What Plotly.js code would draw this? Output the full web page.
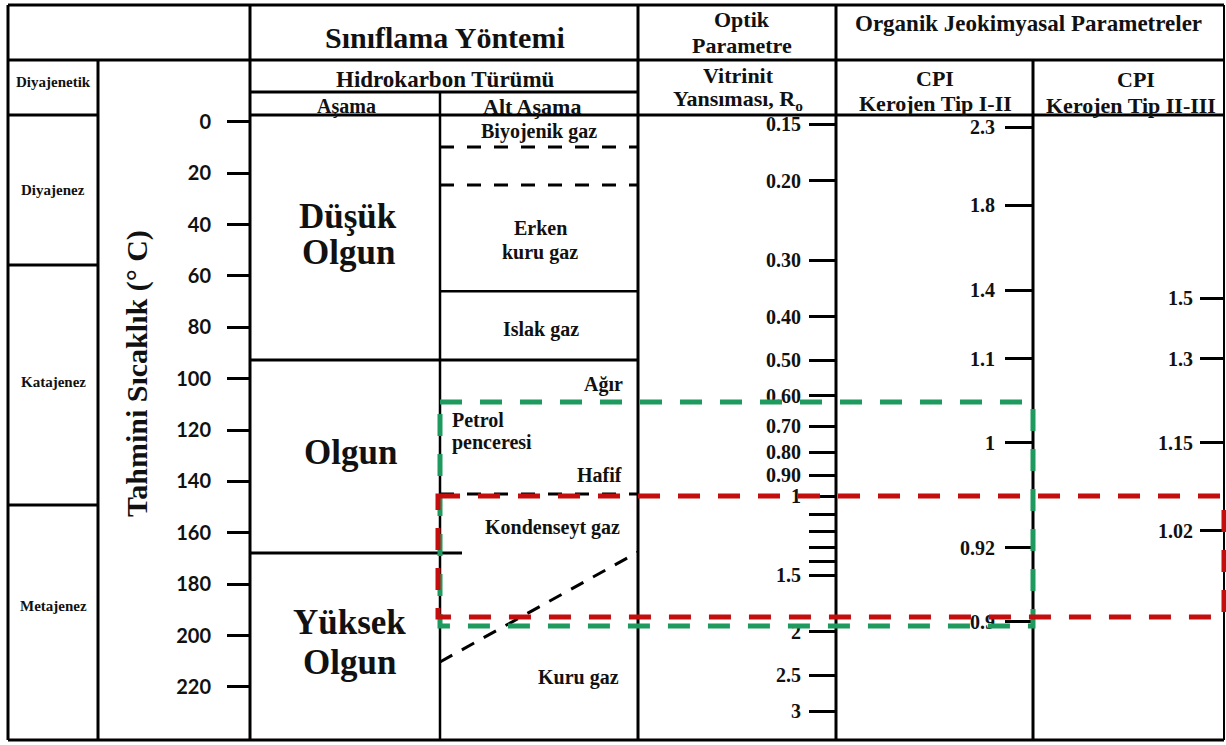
<!DOCTYPE html>
<html><head><meta charset="utf-8">
<script src="https://cdn.plot.ly/plotly-3.0.1.min.js"></script>
<style>html,body{margin:0;padding:0;background:#fff}</style>
</head><body><div id="chart" style="width:1226px;height:745px"></div>
<script>
// ---------- data ----------
const tempTicks = [0,20,40,60,80,100,120,140,160,180,200,220];          // °C
const roValues  = [0.15,0.2,0.3,0.4,0.5,0.6,0.7,0.8,0.9,1,1.5,2,2.5,3];
const roLabels  = ['0.15','0.20','0.30','0.40','0.50','0.60','0.70','0.80','0.90','1','1.5','2','2.5','3'];
const roMinor   = [1.1,1.2,1.3,1.4];                                    // unlabelled ticks
const cpi1Labels = ['2.3','1.8','1.4','1.1','1','0.92','0.9'];
const cpi1Temps  = [2.0,32.4,65.5,92.3,125.0,165.9,194.7];
const cpi2Labels = ['1.5','1.3','1.15','1.02'];
const cpi2Temps  = [68.6,92.3,125.0,159.3];
const diaNames  = ['Diyajenez','Katajenez','Metajenez'];
const diaLabelT = [26.5,101.3,188.5];
const diaBounds = [55.7,149.2];
const stageBounds = [92.7,167.9];
const subSolid  = [65.9];
const subDashed = [9.8,24.6,144.9];
const dryGasLineT = [210.3,167.5];      // Kuru gaz / Kondenseyt boundary (left, right)
const oilWindowT = [109.1,196.3];       // Petrol penceresi (green)
const gasWindowT = [145.7,192.8];       // Kondenseyt gaz penceresi (red)

// ---------- helpers ----------
const W = 1226, H = 745;
const px = x => x / W;
const py = y => 1 - y / H;
const SERIF = 'Liberation Serif, Times New Roman, serif';
const shapes = [];
const ann = [];
function pline(x0,y0,x1,y1,w){ shapes.push({type:'line',xref:'paper',yref:'paper',x0:px(x0),x1:px(x1),y0:py(y0),y1:py(y1),line:{color:'#000',width:w||3}}); }
function tline(x0,t0,x1,t1,w,dash){ shapes.push({type:'line',xref:'paper',yref:'y',x0:px(x0),x1:px(x1),y0:t0,y1:t1,line:{color:'#000',width:w||3,dash:dash||'solid'}}); }
function hdr(text,x,y,size,opt){ ann.push(Object.assign({text:'<b>'+text+'</b>',xref:'paper',yref:'paper',x:px(x),y:py(y),showarrow:false,xanchor:'center',yanchor:'middle',font:{family:SERIF,size:size,color:'#111'}},opt||{})); }
function body(text,x,t,size,opt){ ann.push(Object.assign({text:'<b>'+text+'</b>',xref:'paper',yref:'y',x:px(x),y:t,showarrow:false,xanchor:'center',yanchor:'middle',font:{family:SERIF,size:size,color:'#111'}},opt||{})); }

// ---------- table frame ----------
pline(8,5,1224,5); pline(8,60,1224,60); pline(250,92,638,92);
pline(8,115,98,115); pline(250,115,1224,115); pline(8,740,1224,740);
pline(8,5,8,740); pline(98,60,98,740); pline(250,5,250,740);
pline(440,92,440,740,2.5); pline(638,5,638,740); pline(836,5,836,740);
pline(1033,60,1033,740); pline(1224,5,1224,740,2);

// ---------- body lines ----------
diaBounds.forEach(t => tline(8,t,98,t,3));
tline(250,stageBounds[0],638,stageBounds[0],3);
tline(250,stageBounds[1],462,stageBounds[1],3);
subSolid.forEach(t => tline(440,t,638,t,2.5));
subDashed.forEach(t => tline(440,t,638,t,3,'14px,13px'));
tline(440,dryGasLineT[0],638,dryGasLineT[1],3,'14px,11px');

// windows
shapes.push({type:'rect',xref:'paper',yref:'y',x0:px(440),x1:px(1033),y0:oilWindowT[0],y1:oilWindowT[1],line:{color:'#1f9a5e',width:5,dash:'22px,18px'}});
shapes.push({type:'rect',xref:'paper',yref:'y',x0:px(438),x1:px(1224),y0:gasWindowT[0],y1:gasWindowT[1],line:{color:'#c40d0d',width:5,dash:'22px,18px'}});

// ---------- header texts ----------
hdr('Sınıflama Yöntemi',445,38,30);
hdr('Optik',742,20,22); hdr('Parametre',742,45,22);
hdr('Organik Jeokimyasal Parametreler',1028,23,23);
hdr('Diyajenetik',53,82,15);
hdr('Hidrokarbon Türümü',445,80,23);
hdr('Aşama',346,106,20); hdr('Alt Aşama',532,107,22);
hdr('Vitrinit',738,76,22); hdr('Yansıması, R<sub>o</sub>',738,100,22);
hdr('CPI',935,79,22); hdr('Kerojen Tip I-II',936,104,22);
hdr('CPI',1136,80,22); hdr('Kerojen Tip II-III',1131,105,22);
hdr('Tahmini Sıcaklık (° C)',137,374,30,{textangle:-90});

// ---------- body texts ----------
diaNames.forEach((n,i) => body(n,53,diaLabelT[i],15));
body('Düşük',348,37.0,35); body('Olgun',348,50.7,35);
body('Olgun',350,128.9,35);
body('Yüksek',349,195.1,35); body('Olgun',349,210.7,35);
body('Biyojenik gaz',539,3.9,20);
body('Erken',540,41.3,20); body('kuru gaz',540,50.7,20);
body('Islak gaz',541,81.0,20);
body('Ağır',603,102.4,20);
body('Petrol',450,116.1,20,{xanchor:'left'}); body('penceresi',450,125.0,20,{xanchor:'left'});
body('Hafif',599,137.5,20);
body('Kondenseyt gaz',552,158.1,20);
body('Kuru gaz',578,216.2,20);

// ---------- axes ----------
const tRange = [242.64,-47.47];
const roRange = [0.5521,-1.0998];
const common = {showgrid:false,zeroline:false,showline:false,ticks:'outside',tickcolor:'#000',tickwidth:3,fixedrange:true};
const serifTick = {family:SERIF,size:20,color:'#111',weight:'bold'};
const layout = {
  width:W,height:H,margin:{l:0,r:0,t:0,b:0},paper_bgcolor:'#fff',plot_bgcolor:'#fff',showlegend:false,
  xaxis:{range:[0,1],visible:false,fixedrange:true},
  yaxis:Object.assign({},common,{range:tRange,anchor:'free',position:px(250),tickmode:'array',tickvals:tempTicks,
        ticklen:23,ticklabelstandoff:12,tickfont:{family:'Lato, sans-serif',size:20,color:'#111',weight:'bold'}}),
  yaxis2:Object.assign({},common,{type:'log',range:roRange,overlaying:'y',anchor:'free',position:px(836),
        tickmode:'array',tickvals:roValues,ticktext:roLabels,ticklen:27,ticklabelstandoff:4,tickfont:serifTick}),
  yaxis3:Object.assign({},common,{range:tRange,overlaying:'y',anchor:'free',position:px(1033),
        tickmode:'array',tickvals:cpi1Temps,ticktext:cpi1Labels,ticklen:28,ticklabelstandoff:6,tickfont:serifTick}),
  yaxis4:Object.assign({},common,{range:tRange,overlaying:'y',anchor:'free',position:px(1224),
        tickmode:'array',tickvals:cpi2Temps,ticktext:cpi2Labels,ticklen:24,ticklabelstandoff:3,tickfont:serifTick}),
  yaxis5:Object.assign({},common,{type:'log',range:roRange,overlaying:'y',anchor:'free',position:px(836),
        tickmode:'array',tickvals:roMinor,ticklen:27,showticklabels:false}),
  shapes:shapes, annotations:ann
};
const hidden = {type:'scatter',mode:'markers',marker:{opacity:0},hoverinfo:'skip'};
const traces = [
  Object.assign({},hidden,{x:[0.5,0.5],y:[tempTicks[0],tempTicks[tempTicks.length-1]],yaxis:'y'}),
  Object.assign({},hidden,{x:[0.5,0.5],y:[roValues[0],roValues[roValues.length-1]],yaxis:'y2'}),
  Object.assign({},hidden,{x:[0.5,0.5],y:[cpi1Temps[0],cpi1Temps[cpi1Temps.length-1]],yaxis:'y3'}),
  Object.assign({},hidden,{x:[0.5,0.5],y:[cpi2Temps[0],cpi2Temps[cpi2Temps.length-1]],yaxis:'y4'}),
  Object.assign({},hidden,{x:[0.5,0.5],y:[roMinor[0],roMinor[roMinor.length-1]],yaxis:'y5'})
];
Plotly.newPlot('chart',traces,layout,{displayModeBar:false,staticPlot:true});
</script>
</body></html>
